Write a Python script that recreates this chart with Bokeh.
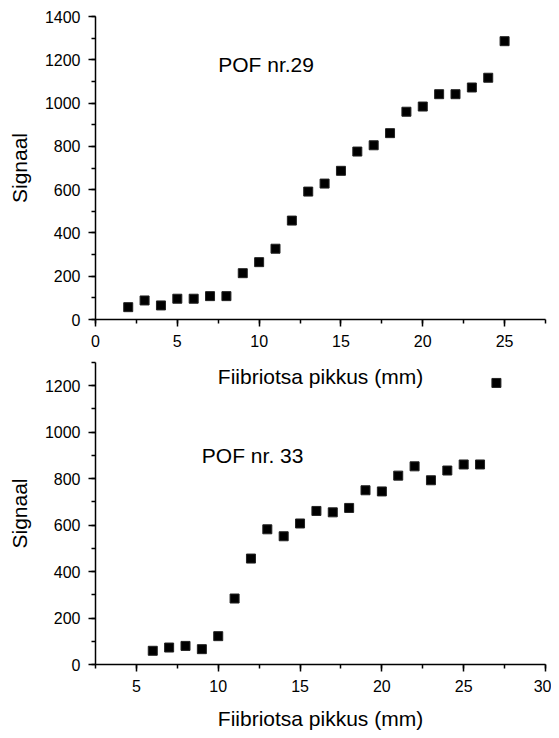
from bokeh.plotting import figure
from bokeh.layouts import column
from bokeh.models import Range1d, SingleIntervalTicker, Label
from bokeh.embed import file_html
from bokeh.resources import INLINE

# ---- data ----
x29 = [2, 3, 4, 5, 6, 7, 8, 9, 10, 11, 12, 13, 14, 15, 16, 17, 18, 19, 20, 21, 22, 23, 24, 25]
y29 = [57, 88, 65, 96, 96, 108, 108, 214, 265, 327, 457, 591, 628, 687, 776, 805, 861, 960, 984, 1041, 1041, 1072, 1117, 1286]

x33 = [6, 7, 8, 9, 10, 11, 12, 13, 14, 15, 16, 17, 18, 19, 20, 21, 22, 23, 24, 25, 26, 27]
y33 = [59, 73, 80, 66, 122, 284, 456, 582, 552, 607, 661, 655, 674, 750, 745, 813, 853, 793, 835, 861, 861, 1212]

label29 = "POF nr.29"
label33 = "POF nr. 33"
xlabel = "Fiibriotsa pikkus (mm)"
ylabel = "Signaal"

FONT = "Liberation Sans"


def style(p, xstand):
    p.outline_line_color = None
    p.grid.visible = False
    for ax in (p.xaxis[0], p.yaxis[0]):
        ax.axis_line_width = 1.5
        ax.major_tick_line_width = 1.5
        ax.minor_tick_line_width = 1.5
        ax.major_tick_out = 7
        ax.major_tick_in = 0
        ax.minor_tick_out = 4
        ax.minor_tick_in = 0
        ax.major_label_text_font = FONT
        ax.major_label_text_font_size = "16px"
        ax.major_label_text_color = "black"
        ax.axis_label_text_font = FONT
        ax.axis_label_text_font_size = "21px"
        ax.axis_label_text_font_style = "normal"
        ax.axis_label_text_color = "black"
        ax.axis_line_color = "black"
        ax.major_tick_line_color = "black"
        ax.minor_tick_line_color = "black"
    p.xaxis[0].major_label_standoff = 8
    p.yaxis[0].major_label_standoff = 8
    p.xaxis[0].axis_label_standoff = xstand
    p.yaxis[0].axis_label_standoff = 11


# ---- top plot ----
p1 = figure(frame_width=450, frame_height=303, output_backend="svg", toolbar_location=None,
            x_range=Range1d(0, 27.5), y_range=Range1d(0, 1400),
            min_border_left=95, min_border_right=6, min_border_top=16, min_border_bottom=0)
p1.scatter(x29, y29, marker="square", size=9, fill_color="black", line_color="#222222")
p1.xaxis.ticker = SingleIntervalTicker(interval=5, num_minor_ticks=2)
p1.yaxis.ticker = SingleIntervalTicker(interval=200, num_minor_ticks=2)
p1.xaxis.axis_label = xlabel
p1.yaxis.axis_label = ylabel
style(p1, 15)
p1.add_layout(Label(x=7.5, y=1180, text=label29, text_font=FONT, text_font_size="21px",
                    text_baseline="middle", text_color="black"))

# ---- bottom plot ----
p2 = figure(frame_width=450, frame_height=302, output_backend="svg", toolbar_location=None,
            x_range=Range1d(2.5, 30), y_range=Range1d(0, 1300),
            min_border_left=95, min_border_right=6, min_border_top=5, min_border_bottom=0)
p2.scatter(x33, y33, marker="square", size=9, fill_color="black", line_color="#222222")
p2.xaxis.ticker = SingleIntervalTicker(interval=5, num_minor_ticks=2)
p2.yaxis.ticker = SingleIntervalTicker(interval=200, num_minor_ticks=2)
p2.xaxis.axis_label = xlabel
p2.yaxis.axis_label = ylabel
style(p2, 12)
p2.add_layout(Label(x=9, y=900, text=label33, text_font=FONT, text_font_size="21px",
                    text_baseline="middle", text_color="black"))
p2.background_fill_alpha = 0
p2.border_fill_alpha = 0
p2.margin = (-33, 0, 0, 0)

layout = column(p1, p2, spacing=0)
open("out.html", "w").write(file_html(layout, INLINE))
